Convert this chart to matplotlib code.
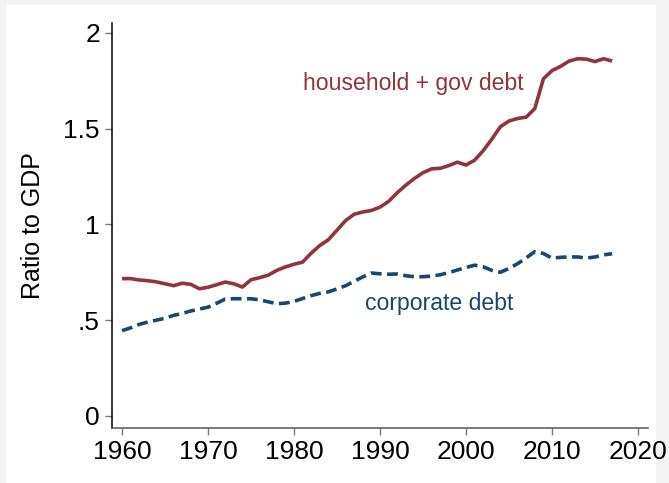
import matplotlib.pyplot as plt
from matplotlib.patches import Rectangle

plt.rcParams['font.family'] = ['Liberation Sans', 'DejaVu Sans']

# Debt-to-GDP ratios, 1960-2017
years = list(range(1960, 2018))
household_gov = [
    0.717, 0.717, 0.710, 0.706, 0.700, 0.690, 0.680, 0.693, 0.687, 0.664,
    0.672, 0.685, 0.699, 0.690, 0.673, 0.711, 0.722, 0.735, 0.760, 0.778,
    0.792, 0.803, 0.850, 0.890, 0.920, 0.970, 1.020, 1.053, 1.065, 1.073,
    1.090, 1.120, 1.165, 1.205, 1.240, 1.270, 1.290, 1.293, 1.307, 1.325,
    1.310, 1.335, 1.385, 1.445, 1.510, 1.540, 1.553, 1.560, 1.605, 1.760,
    1.803, 1.825, 1.853, 1.865, 1.863, 1.850, 1.865, 1.853,
]
corporate = [
    0.445, 0.460, 0.478, 0.490, 0.500, 0.510, 0.525, 0.535, 0.548, 0.558,
    0.568, 0.588, 0.610, 0.612, 0.612, 0.612, 0.606, 0.596, 0.586, 0.589,
    0.598, 0.613, 0.628, 0.640, 0.648, 0.663, 0.680, 0.703, 0.726, 0.746,
    0.742, 0.740, 0.741, 0.732, 0.727, 0.727, 0.730, 0.737, 0.748, 0.762,
    0.775, 0.787, 0.779, 0.760, 0.750, 0.770, 0.795, 0.825, 0.858, 0.848,
    0.824, 0.828, 0.830, 0.830, 0.824, 0.830, 0.841, 0.847,
]
x_ticks = [1960, 1970, 1980, 1990, 2000, 2010, 2020]
y_ticks = [0, 0.5, 1, 1.5, 2]
y_ticklabels = ['0', '.5', '1', '1.5', '2']

red = '#90353B'
blue = '#1A476F'

fig = plt.figure(figsize=(6.69, 4.83), dpi=100, facecolor='#f3f3f3')
# white graph region with a thin grey margin on the left, top and right
fig.patches.append(Rectangle((6 / 669, 0), 650 / 669, 478 / 483,
                             transform=fig.transFigure, facecolor='white',
                             edgecolor='none', zorder=-1))

ax = fig.add_axes([111.7 / 669, 55 / 483, 536.6 / 669, 404.7 / 483])
ax.set_facecolor('white')

ax.plot(years, household_gov, color=red, lw=2.6, solid_capstyle='butt')
ax.plot(years, corporate, color=blue, lw=2.6, dashes=(3.0, 1.5),
        dash_capstyle='butt')

ax.text(1981.05, 1.704, 'household + gov debt', color=red, fontsize=16.6,
        va='baseline', ha='left')
ax.text(1988.3, 0.554, 'corporate debt', color=blue, fontsize=16.6,
        va='baseline', ha='left')

ax.set_xlim(1958.8, 2021.2)
ax.set_ylim(-0.063, 2.05)
ax.set_xticks(x_ticks)
ax.set_yticks(y_ticks)
ax.set_yticklabels(y_ticklabels)
ax.tick_params(axis='both', labelsize=19, length=5, width=1,
               color='#777777', labelcolor='black')
ax.tick_params(axis='x', pad=3.5)
ax.tick_params(axis='y', pad=3.5)

ax.set_ylabel('Ratio to GDP', fontsize=18, labelpad=13)

for side in ['top', 'right']:
    ax.spines[side].set_visible(False)
ax.spines['left'].set_color('black')
ax.spines['left'].set_linewidth(1.1)
ax.spines['bottom'].set_color('#555555')
ax.spines['bottom'].set_linewidth(1.1)

plt.savefig('out.png', dpi=100, facecolor=fig.get_facecolor())
